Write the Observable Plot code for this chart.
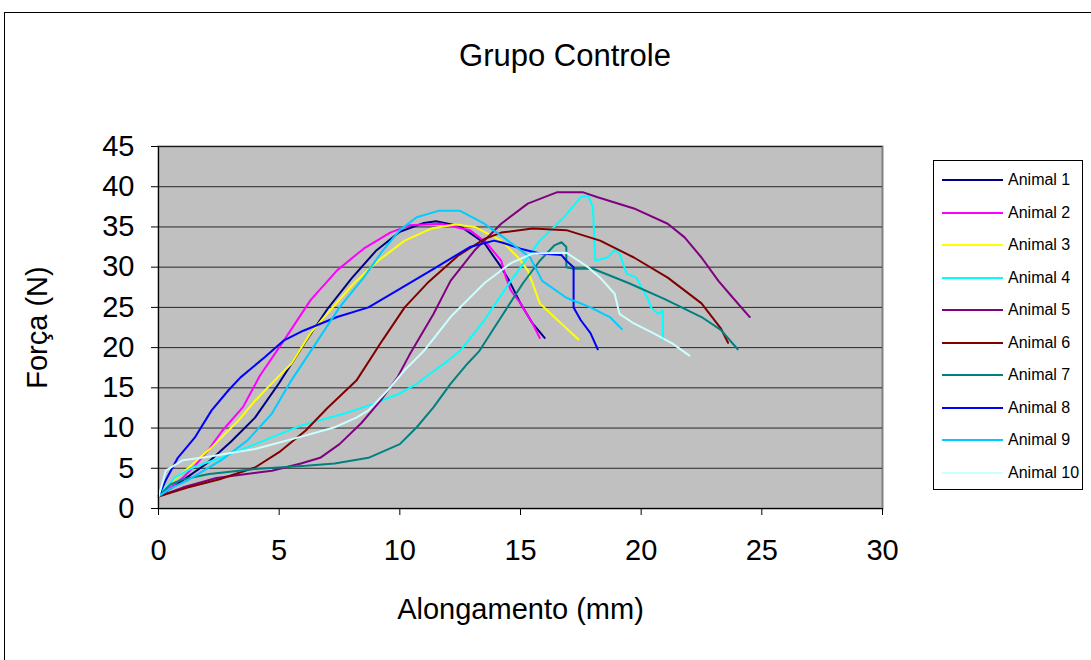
<!DOCTYPE html>
<html>
<head>
<meta charset="utf-8">
<script src="https://cdn.jsdelivr.net/npm/d3@7"></script>
<script src="https://cdn.jsdelivr.net/npm/@observablehq/plot@0.6"></script>
<style>
  html, body { margin: 0; padding: 0; background: #fff; overflow: hidden; }
  body { font-family: "Liberation Sans", Arial, sans-serif; }
  #wrap { position: relative; width: 1091px; height: 660px; }
  #frame { position: absolute; left: 4px; top: 12px; width: 1200px; height: 800px; border: 1px solid #000; }
  #chart { position: absolute; left: 0; top: 0; }
  #title { position: absolute; left: 0; width: 1130px; top: 38px; text-align: center; font-size: 31px; color: #000; }
  #legend { position: absolute; left: 933px; top: 160px; width: 148px; height: 328px; border: 1px solid #000; background: #fff; }
  .item { position: absolute; left: 8px; height: 20px; display: flex; align-items: center; }
  .sw { width: 61px; height: 2px; margin-right: 5px; }
  .lb { font-size: 16px; color: #000; white-space: nowrap; }
</style>
</head>
<body>
<div id="wrap">
  <div id="frame"></div>
  <div id="chart"></div>
  <div id="title">Grupo Controle</div>
  <div id="legend"></div>
</div>
<script>
// ---- data (Alongamento mm, Força N) ----
const seriesNames = ["Animal 1","Animal 2","Animal 3","Animal 4","Animal 5","Animal 6","Animal 7","Animal 8","Animal 9","Animal 10"];
const seriesColors = ["#000080","#FF00FF","#FFFF00","#00FFFF","#800080","#800000","#008080","#0000FF","#00CCFF","#CCFFFF"];
const xTicks = [0,5,10,15,20,25,30];
const yTicks = [0,5,10,15,20,25,30,35,40,45];

const animal1 = [[0,1.5],[0.5,2.5],[1,3.5],[2,5.6],[3,8.3],[4,11.3],[5,15.6],[6,20.3],[7,24.8],[8,28.6],[9,32],[10,34.4],[11,35.5],[11.5,35.7],[12.5,35.1],[13.5,33],[14.2,30],[14.5,28.5],[15,25.5],[15.5,23],[16,21.2]];
const animal2 = [[0,1.5],[0.5,2.6],[1,3.8],[1.5,5.3],[2,7],[2.65,9.7],[3.5,12.6],[4.2,16.5],[5.2,20.9],[6.3,25.9],[7.4,29.6],[8.5,32.3],[9.6,34.3],[10.4,35.2],[11.7,35.4],[12.9,34.6],[13.6,33],[14.2,30.8],[14.4,28.7],[14.6,27.1],[15,25.5],[15.5,23],[15.8,21.2]];
const animal3 = [[0,1.5],[0.5,3.2],[1.1,4.7],[2.2,7.6],[3.3,10.9],[4,13.4],[4.8,15.9],[5.5,18],[6.3,21.8],[7.1,24.6],[8.1,28],[9.1,30.8],[10.2,33.3],[11.3,34.8],[12.3,35.3],[13.1,35],[14.2,33.3],[14.9,31.2],[15.3,29.6],[15.5,28],[15.8,25.5],[16.4,23.8],[17.4,21]];
const animal4 = [[0,1.5],[0.7,3.9],[1.5,5.2],[2.6,6.3],[4,8],[5.9,10.3],[7.7,11.8],[8.9,13],[10,14.3],[10.7,15.5],[12,18.4],[12.5,19.6],[13.5,23.4],[14.6,28.3],[15.8,33.3],[16.8,36.2],[17.5,38.7],[17.8,38.9],[18,37.5],[18.1,30.8],[18.6,31.2],[18.9,32.1],[19.1,31.7],[19.4,29.2],[19.8,28.7],[20.3,25.9],[20.4,25],[20.7,24.2],[20.9,24.6],[20.9,21]];
const animal5 = [[0,1.5],[1,2.6],[2.4,3.8],[4.7,4.7],[5.9,5.6],[6.7,6.3],[7.5,8],[8.4,10.6],[9.2,13.4],[9.9,16.3],[10.4,19.1],[11.4,24.2],[12.1,28.3],[13.1,32.1],[14.2,35.4],[15.3,37.9],[16.5,39.3],[17.6,39.3],[18.2,38.7],[19.7,37.3],[21.1,35.4],[21.8,33.7],[22.5,31.2],[23.2,28.3],[23.8,26.2],[24.5,23.8]];
const animal6 = [[0,1.5],[1.2,2.6],[2.5,3.6],[4,5.1],[5,7],[6.1,9.7],[7,12.5],[8.2,15.9],[9.3,21],[10.2,25],[11.2,28.2],[12.4,31.4],[13.5,33.5],[14.2,34.3],[15.5,34.8],[16.9,34.6],[18.3,33.3],[19.7,31.2],[21.1,28.7],[22.5,25.5],[23.3,22.4],[23.6,20.6]];
const animal7 = [[0,1.5],[0.5,3],[1,3.6],[2.1,4.3],[4,4.9],[6.1,5.3],[7.3,5.6],[8.7,6.3],[10,8],[10.7,10.1],[11.4,12.6],[12.1,15.5],[12.8,18],[13.3,19.6],[14.2,23.8],[15.1,28],[15.8,30.8],[16.4,32.7],[16.7,33.1],[16.9,32.5],[16.9,30],[17.2,29.8],[18,29.8],[19.5,28],[21,26],[22.5,23.8],[23.3,22.2],[24,19.8]];
const animal8 = [[0,1.5],[0.3,3.5],[0.8,6.3],[1.5,8.8],[2.2,12.2],[2.9,14.7],[3.4,16.3],[4.4,18.8],[5.2,20.9],[6,22.1],[7.4,23.8],[8.7,25],[10,27.3],[11.4,29.8],[12.9,32.5],[13.9,33.3],[14.2,33.1],[15,32.3],[15.8,31.7],[16.7,31.5],[16.9,30.8],[17.2,30],[17.2,25],[17.5,23.4],[17.9,21.8],[18.2,19.8]];
const animal9 = [[0,1.5],[0.5,2.5],[1.2,3.5],[2.6,6],[3.7,8.5],[4.7,11.8],[5.5,15.9],[6.6,20.9],[7.5,25],[8.5,28.7],[9.3,32.1],[10,34.6],[10.7,36.2],[11.6,37],[12.5,37],[13.5,35.4],[14.3,33.7],[15.4,31.2],[15.9,28.3],[16.9,26.2],[17.9,25],[18.7,23.8],[19.2,22.3]];
const animal10 = [[0,1.5],[0.1,2.5],[0.3,4.7],[1,6],[2,6.4],[4,7.4],[6,9],[7.3,10.1],[8.2,11.3],[8.7,12.2],[9.5,14.7],[10.2,17.2],[11,19.6],[12.1,23.8],[13.5,28],[14.6,30.5],[15.5,31.7],[16.9,31.8],[17.8,30],[18.3,28.7],[18.9,26.7],[19.1,24.2],[19.7,23],[20.5,21.8],[21.3,20.5],[22,19]];

const allSeries = [animal1, animal2, animal3, animal4, animal5, animal6, animal7, animal8, animal9, animal10];

const lineMarks = allSeries.map((s, i) =>
  Plot.line(s, {x: d => d[0], y: d => d[1], stroke: seriesColors[i], strokeWidth: 2, strokeLinejoin: "miter"})
);

const chart = Plot.plot({
  width: 1091,
  height: 660,
  marginLeft: 158,
  marginRight: 209,
  marginTop: 146,
  marginBottom: 152,
  style: {fontFamily: "'Liberation Sans', Arial, sans-serif", color: "#000", background: "transparent", overflow: "visible"},
  x: {domain: [0, 30]},
  y: {domain: [0, 45]},
  marks: [
    Plot.frame({fill: "#C0C0C0", stroke: "#808080", strokeWidth: 2}),
    Plot.gridY(yTicks.filter(v => v > 0), {stroke: "#000", strokeOpacity: 0.8, strokeWidth: 1}),
    ...lineMarks,
    Plot.ruleX([0], {stroke: "#000", strokeWidth: 1}),
    Plot.ruleY([0], {stroke: "#000", strokeWidth: 1}),
    Plot.axisX({ticks: xTicks, tickSize: 7, tickPadding: 24, fontSize: 29, label: "Alongamento (mm)", labelAnchor: "center", labelOffset: 110, labelArrow: false}),
    Plot.axisY({ticks: yTicks, tickSize: 7, tickPadding: 17, fontSize: 29, label: "Força (N)", labelAnchor: "center", labelOffset: 132, labelArrow: false})
  ]
});
document.getElementById("chart").appendChild(chart);

// legend
const legend = document.getElementById("legend");
seriesNames.forEach((name, i) => {
  const item = document.createElement("div");
  item.className = "item";
  item.style.top = (9 + i * 32.5) + "px";
  const sw = document.createElement("div");
  sw.className = "sw";
  sw.style.background = seriesColors[i];
  const lb = document.createElement("span");
  lb.className = "lb";
  lb.textContent = name;
  item.appendChild(sw);
  item.appendChild(lb);
  legend.appendChild(item);
});
</script>
</body>
</html>
